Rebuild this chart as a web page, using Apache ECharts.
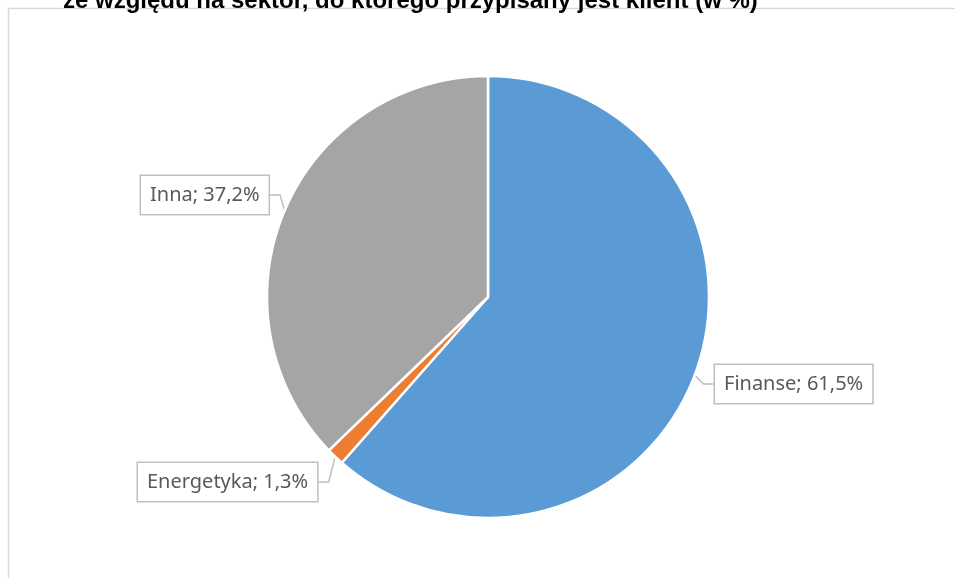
<!DOCTYPE html>
<html>
<head>
    <meta charset="utf-8">
    <title>Sektor klienta</title>
    <script src="https://cdn.jsdelivr.net/npm/echarts@6/dist/echarts.min.js"></script>
    <style>
        html, body { margin: 0; padding: 0; background: #fff; }
        #chart1 { width: 955px; height: 578px; }
    </style>
</head>
<body>
<div id="chart1"></div>
<script type="text/javascript">
    // dane z wykresu
    var sectors = ['Finanse', 'Energetyka', 'Inna'];
    var shares = [61.5, 1.3, 37.2];
    var colors = ['#5B9BD5', '#ED7D31', '#A5A5A5'];

    var myChart = echarts.init(document.getElementById('chart1'));

    // miejsca etykiet (jak w oryginale)
    var labelPlaces = [
        {x: 715, y: 384},
        {x: 138, y: 482},
        {x: 141, y: 195}
    ];

    var option = {
        animation: false,
        title: {
            text: 'ze względu na sektor, do którego przypisany jest klient (w %)',
            left: 58,
            top: -16,
            textStyle: {
                fontFamily: 'Liberation Sans',
                fontSize: 24,
                fontWeight: 'bold',
                color: '#000'
            }
        },
        graphic: [{
            type: 'rect',
            shape: {x: 8.5, y: 8.5, width: 1200, height: 1200},
            style: {fill: 'none', stroke: '#d9d9d9', lineWidth: 1.5},
            silent: true
        }],
        series: [{
            type: 'pie',
            center: [488, 297],
            radius: 221,
            startAngle: 90,
            clockwise: true,
            data: sectors.map(function (name, i) {
                return {name: name, value: shares[i], itemStyle: {color: colors[i]}};
            }),
            itemStyle: {borderColor: '#fff', borderWidth: 2.5},
            label: {
                show: true,
                formatter: function (p) {
                    return p.name + '; ' + String(p.value).replace('.', ',') + '%';
                },
                fontFamily: 'Noto Sans',
                fontSize: 20,
                color: '#595959',
                backgroundColor: '#fff',
                borderColor: '#bfbfbf',
                borderWidth: 1.5,
                padding: [9, 9]
            },
            labelLine: {
                show: true,
                length: 10,
                length2: 10,
                lineStyle: {color: '#bfbfbf', width: 1.5}
            },
            labelLayout: function (p) {
                var pl = labelPlaces[p.dataIndex];
                return {x: pl.x, y: pl.y, align: 'left', verticalAlign: 'middle'};
            }
        }]
    };
    myChart.setOption(option);
</script>
</body>
</html>
